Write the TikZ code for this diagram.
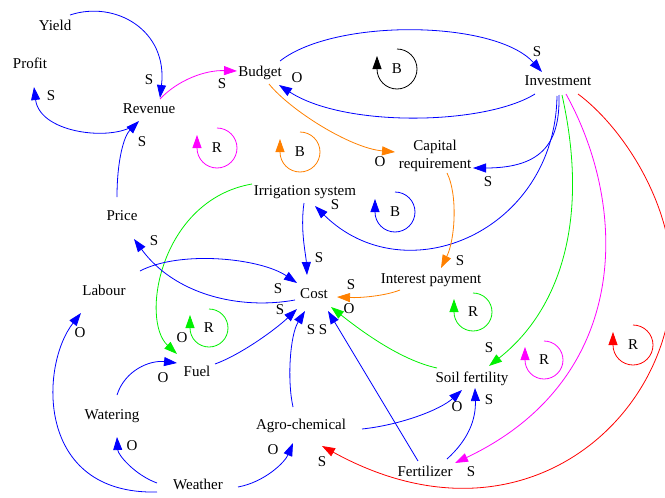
\documentclass[tikz,border=0pt]{standalone}
\usepackage{fontspec}
\setmainfont{Liberation Serif}
\usetikzlibrary{arrows.meta,calc}

\definecolor{cblue}{RGB}{0,0,255}
\definecolor{cgreen}{RGB}{0,240,0}
\definecolor{cmag}{RGB}{255,0,255}
\definecolor{corange}{RGB}{255,128,0}
\definecolor{cred}{RGB}{255,0,0}

\begin{document}
\begin{tikzpicture}[x=1pt,y=-1pt,
  var/.style={font=\fontsize{15}{17.3}\selectfont, inner sep=0pt, text height=9.9pt, text depth=0pt},
  capvar/.style={font=\fontsize{15}{17.3}\selectfont, inner sep=0pt, align=center},
  pol/.style={font=\fontsize{15}{17.3}\selectfont, inner sep=0pt, text height=9.9pt, text depth=0pt},
  lk/.style={line width=0.8pt, -{Triangle[length=13pt,width=9pt]}},
  loopmark/.style={line width=0.8pt, -{Triangle[length=13pt,width=9pt]}}
]
\useasboundingbox (0,0) rectangle (665,498);
\clip (0,0) rectangle (665,498);

% variables
\node[var] (yield)    at (55,26)  {Yield};
\node[var] (profit)   at (30,64)  {Profit};
\node[var] (revenue)  at (149,109) {Revenue};
\node[var] (budget)   at (260,72) {Budget};
\node[var] (invest)   at (558,81) {Investment};
\node[capvar] (capreq) at (435,156) {Capital\\requirement};
\node[var] (irrig)    at (305,191) {Irrigation system};
\node[var] (price)    at (122,216) {Price};
\node[var] (cost)     at (314,294) {Cost};
\node[var] (interest) at (431,279) {Interest payment};
\node[var] (labour)   at (104,291) {Labour};
\node[var] (fuel)     at (197,372) {Fuel};
\node[var] (watering) at (112,415) {Watering};
\node[var] (agro)     at (301,425) {Agro-chemical};
\node[var] (weather)  at (198,485) {Weather};
\node[var] (soil)     at (472,378) {Soil fertility};
\node[var] (fert)     at (425,472) {Fertilizer};

\coordinate (redturn) at (672,280);

% causal links
\draw[lk,cblue] ($(yield)+(15,-11)$) .. controls (115,0) and (168,30) .. ($(revenue)+(11,-11)$);
\draw[lk,cblue] ($(revenue)+(-12,14)$) .. controls (118,142) and (40,135) .. ($(profit)+(4,23)$);
\draw[lk,cblue] ($(price)+(-5,-19)$) .. controls (117,160) and (124,136) .. ($(revenue)+(-10,12)$);
\draw[lk,cmag] ($(revenue)+(11,-10)$) .. controls (178,80) and (205,70) .. ($(budget)+(-23,-1)$);
\draw[lk,cblue] ($(budget)+(20,-11)$) .. controls (335,18) and (495,20) .. ($(invest)+(-16,-9)$);
\draw[lk,cblue] ($(invest)+(-23,13)$) .. controls (485,125) and (345,128) .. ($(budget)+(19,13)$);
\draw[lk,corange] ($(budget)+(9,12)$) .. controls (290,110) and (350,148) .. ($(capreq)+(-40,-4)$);
\draw[lk,cblue] ($(invest)+(1,14)$) .. controls (560,140) and (545,168) .. ($(capreq)+(38,12)$);
\draw[lk,cblue] ($(invest)+(-1,15)$) .. controls (555,232) and (405,295) .. ($(irrig)+(10,15)$);
\draw[lk,cgreen] ($(invest)+(4,14)$) .. controls (590,220) and (560,310) .. ($(soil)+(17,-12)$);
\draw[lk,cmag] ($(invest)+(8,13)$) .. controls (630,210) and (630,380) .. ($(fert)+(30,-9)$);
\draw[lk,cred] ($(invest)+(20,13)$) .. controls (620,125) and (672,200) .. (redturn)
  .. controls (672,420) and (520,555) .. ($(agro)+(21,21)$);
\draw[lk,cblue] ($(irrig)+(-1,12)$) .. controls (300,230) and (306,255) .. ($(cost)+(-7,-19)$);
\draw[lk,cgreen] ($(irrig)+(-53,-7)$) .. controls (160,200) and (140,320) .. ($(fuel)+(-20,-18)$);
\draw[lk,cblue] ($(cost)+(-19,6)$) .. controls (240,310) and (175,295) .. ($(price)+(12,23)$);
\draw[lk,cblue] ($(labour)+(36,-20)$) .. controls (180,250) and (260,258) .. ($(cost)+(-17,-11)$);
\draw[lk,cblue] ($(fuel)+(18,-8)$) .. controls (240,355) and (275,330) .. ($(cost)+(-17,15)$);
\draw[lk,cblue] ($(agro)+(-8,-18)$) .. controls (287,380) and (290,335) .. ($(cost)+(-9,17)$);
\draw[lk,cblue] ($(fert)+(-7,-11)$) -- ($(cost)+(14,17)$);
\draw[lk,cgreen] ($(soil)+(-35,-10)$) .. controls (400,360) and (360,330) .. ($(cost)+(17,13)$);
\draw[lk,corange] ($(interest)+(-31,11)$) .. controls (385,296) and (360,298) .. ($(cost)+(23,3)$);
\draw[lk,corange] ($(capreq)+(12,17)$) .. controls (458,195) and (455,240) .. ($(interest)+(10,-11)$);
\draw[lk,cblue] ($(weather)+(-41,7)$) .. controls (35,495) and (40,365) .. ($(labour)+(-23,22)$);
\draw[lk,cblue] ($(weather)+(-41,-2)$) .. controls (135,475) and (118,455) .. ($(watering)+(5,22)$);
\draw[lk,cblue] ($(watering)+(5,-20)$) .. controls (125,370) and (150,360) .. ($(fuel)+(-20,-9)$);
\draw[lk,cblue] ($(weather)+(40,2)$) .. controls (265,482) and (285,462) .. ($(agro)+(-8,18)$);
\draw[lk,cblue] ($(agro)+(61,4)$) .. controls (400,425) and (440,410) .. ($(soil)+(-10,12)$);
\draw[lk,cblue] ($(fert)+(22,-13)$) .. controls (468,440) and (476,420) .. ($(soil)+(3,10)$);

% link polarities
\node[pol] (p01) at (149,80)  {S};
\node[pol] (p02) at (51,96)   {S};
\node[pol] (p03) at (142,142) {S};
\node[pol] (p04) at (222,84)  {S};
\node[pol] (p05) at (537,52)  {S};
\node[pol] (p06) at (297,78)  {O};
\node[pol] (p07) at (380,162) {O};
\node[pol] (p08) at (488,182) {S};
\node[pol] (p09) at (335,205) {S};
\node[pol] (p10) at (489,348) {S};
\node[pol] (p11) at (471,472) {S};
\node[pol] (p12) at (322,462) {S};
\node[pol] (p13) at (319,258) {S};
\node[pol] (p14) at (182,338) {O};
\node[pol] (p15) at (154,241) {S};
\node[pol] (p16) at (278,289) {S};
\node[pol] (p17) at (280,310) {S};
\node[pol] (p18) at (311,330) {S};
\node[pol] (p19) at (323,330) {S};
\node[pol] (p20) at (349,309) {O};
\node[pol] (p21) at (351,285) {S};
\node[pol] (p22) at (460,261) {S};
\node[pol] (p23) at (80,333)  {O};
\node[pol] (p24) at (132,446) {O};
\node[pol] (p25) at (163,378) {O};
\node[pol] (p26) at (273,450) {O};
\node[pol] (p27) at (457,407) {O};
\node[pol] (p28) at (489,400) {S};

% loop markers
\node[pol] (lb1) at (397,69)  {B};
\node[pol] (lr1) at (217,148) {R};
\node[pol] (lb2) at (300,152) {B};
\node[pol] (lb3) at (395,212) {B};
\node[pol] (lr2) at (209,328) {R};
\node[pol] (lr3) at (473,312) {R};
\node[pol] (lr4) at (544,360) {R};
\node[pol] (lr5) at (633,345) {R};

\draw[loopmark,black]   ($(lb1)+(0,-20)$) arc[start angle=-90,end angle=180,radius=20] -- ++(0,-13);
\draw[loopmark,cmag]    ($(lr1)+(0,-20)$) arc[start angle=-90,end angle=180,radius=20] -- ++(0,-13);
\draw[loopmark,corange] ($(lb2)+(0,-20)$) arc[start angle=-90,end angle=180,radius=20] -- ++(0,-13);
\draw[loopmark,cblue]   ($(lb3)+(0,-20)$) arc[start angle=-90,end angle=180,radius=20] -- ++(0,-13);
\draw[loopmark,cgreen]  ($(lr2)+(0,-19)$) arc[start angle=-90,end angle=180,radius=19] -- ++(0,-13);
\draw[loopmark,cgreen]  ($(lr3)+(0,-19)$) arc[start angle=-90,end angle=180,radius=19] -- ++(0,-13);
\draw[loopmark,cmag]    ($(lr4)+(0,-19)$) arc[start angle=-90,end angle=180,radius=19] -- ++(0,-13);
\draw[loopmark,cred]    ($(lr5)+(0,-20)$) arc[start angle=-90,end angle=180,radius=20] -- ++(0,-13);
\end{tikzpicture}
\end{document}
